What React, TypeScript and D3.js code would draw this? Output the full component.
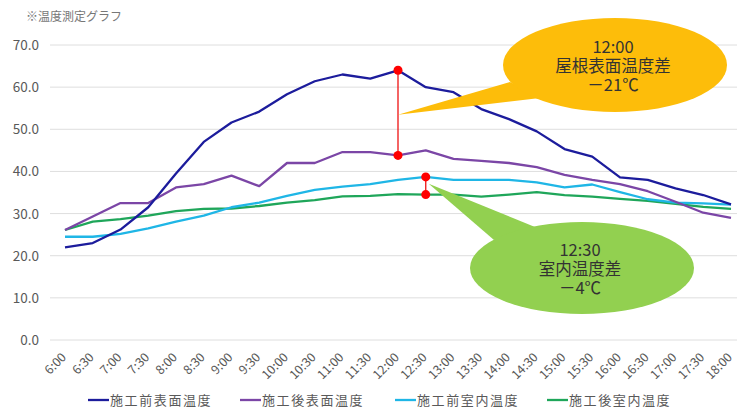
import * as d3 from "d3";
import { useEffect, useRef } from "react";

const times = [
  "6:00", "6:30", "7:00", "7:30", "8:00", "8:30", "9:00", "9:30", "10:00",
  "10:30", "11:00", "11:30", "12:00", "12:30", "13:00", "13:30", "14:00",
  "14:30", "15:00", "15:30", "16:00", "16:30", "17:00", "17:30", "18:00",
];

const beforeSurface = [
  22.0, 23.0, 26.2, 31.5, 39.5, 47.0, 51.6, 54.2, 58.3, 61.4, 63.0, 62.0, 64.0,
  60.0, 58.8, 54.8, 52.4, 49.5, 45.3, 43.5, 38.6, 38.0, 36.0, 34.4, 32.2,
];
const afterSurface = [
  26.1, 29.3, 32.5, 32.5, 36.2, 37.0, 39.0, 36.5, 42.0, 42.0, 44.6, 44.6, 43.8,
  45.0, 43.0, 42.5, 42.0, 41.0, 39.2, 38.0, 37.0, 35.3, 32.8, 30.2, 29.0,
];
const beforeRoom = [
  24.5, 24.5, 25.2, 26.5, 28.1, 29.5, 31.5, 32.6, 34.2, 35.6, 36.4, 37.0, 38.0,
  38.7, 38.0, 38.0, 38.0, 37.4, 36.2, 36.9, 35.1, 33.4, 32.6, 32.4, 32.1,
];
const afterRoom = [
  26.1, 28.1, 28.7, 29.5, 30.6, 31.1, 31.2, 31.8, 32.6, 33.2, 34.1, 34.2, 34.6,
  34.5, 34.5, 34.0, 34.5, 35.1, 34.4, 34.0, 33.5, 33.0, 32.3, 31.6, 31.1,
];

const seriesNames = ["施工前表面温度", "施工後表面温度", "施工前室内温度", "施工後室内温度"];
const seriesColors = ["#1c1c9c", "#7b46a6", "#1fb6e6", "#1fa65a"];
const yTicks = [0, 10, 20, 30, 40, 50, 60, 70];

const font = "'Noto Sans CJK JP', 'Noto Sans', sans-serif";

const App = () => {
  const ref = useRef<SVGSVGElement | null>(null);

  useEffect(() => {
    const svg = d3.select(ref.current);
    svg.selectAll("*").remove();

    const x = d3.scalePoint<string>().domain(times).range([65, 731]);
    const y = d3.scaleLinear().domain([0, 70]).range([340, 45]);

    svg.append("rect").attr("width", 737).attr("height", 410).attr("fill", "#fff");

    svg
      .append("text")
      .attr("x", 26)
      .attr("y", 21)
      .attr("font-size", 12)
      .attr("fill", "#777")
      .attr("font-family", font)
      .text("※温度測定グラフ");

    // grid + y labels
    const grid = svg.append("g");
    yTicks.forEach((t) => {
      grid
        .append("line")
        .attr("x1", 50)
        .attr("x2", 737)
        .attr("y1", y(t))
        .attr("y2", y(t))
        .attr("stroke", "#dedede")
        .attr("stroke-width", 1);
      grid
        .append("text")
        .attr("x", 39)
        .attr("y", y(t) + 5)
        .attr("text-anchor", "end")
        .attr("font-size", 13.5)
        .attr("fill", "#595959")
        .attr("font-family", font)
        .text(t.toFixed(1));
    });

    // x labels
    times.forEach((t) => {
      const px = (x(t) || 0) + 2;
      svg
        .append("text")
        .attr("transform", `translate(${px},358) rotate(-45)`)
        .attr("text-anchor", "end")
        .attr("font-size", 12.5)
        .attr("fill", "#595959")
        .attr("font-family", font)
        .text(t);
    });

    const all = [beforeSurface, afterSurface, beforeRoom, afterRoom];
    const line = d3
      .line<number>()
      .x((_, i) => x(times[i]) || 0)
      .y((d) => y(d));

    // draw in order so navy is on top like the reference
    [3, 2, 1, 0].forEach((k) => {
      svg
        .append("path")
        .datum(all[k])
        .attr("d", line)
        .attr("fill", "none")
        .attr("stroke", seriesColors[k])
        .attr("stroke-width", 2.3)
        .attr("stroke-linejoin", "round");
    });

    // difference markers
    const diffs = [
      { t: "12:00", a: beforeSurface[12], b: afterSurface[12] },
      { t: "12:30", a: beforeRoom[13], b: afterRoom[13] },
    ];
    diffs.forEach((d) => {
      const px = x(d.t) || 0;
      svg
        .append("line")
        .attr("x1", px)
        .attr("x2", px)
        .attr("y1", y(d.a))
        .attr("y2", y(d.b))
        .attr("stroke", "#ee1111")
        .attr("stroke-width", 1.3);
      [d.a, d.b].forEach((v) => {
        svg.append("circle").attr("cx", px).attr("cy", y(v)).attr("r", 4.5).attr("fill", "#ff0000");
      });
    });

    // callouts
    const callouts = [
      {
        cx: 615, cy: 65, rx: 112, ry: 47, fill: "#fdbd0a",
        tip: [x("12:00") || 0, y((beforeSurface[12] + afterSurface[12]) / 2) + 2],
        base: [[510, 82], [540, 98]],
        lines: ["12:00", "屋根表面温度差", "－21℃"],
        textY: [53, 72, 91],
      },
      {
        cx: 582, cy: 268, rx: 112, ry: 46, fill: "#92d050",
        tip: [(x("12:30") || 0) + 3, y((beforeRoom[13] + afterRoom[13]) / 2) - 2],
        base: [[494, 240], [535, 227]],
        lines: ["12:30", "室内温度差", "－4℃"],
        textY: [256, 275, 294],
      },
    ];
    callouts.forEach((c) => {
      svg
        .append("polygon")
        .attr("points", [c.tip, ...c.base].map((p) => p.join(",")).join(" "))
        .attr("fill", c.fill);
      svg
        .append("ellipse")
        .attr("cx", c.cx)
        .attr("cy", c.cy)
        .attr("rx", c.rx)
        .attr("ry", c.ry)
        .attr("fill", c.fill);
      c.lines.forEach((s, i) => {
        svg
          .append("text")
          .attr("x", c.cx - 2)
          .attr("y", c.textY[i])
          .attr("text-anchor", "middle")
          .attr("font-size", 16.5)
          .attr("fill", "#333")
          .attr("font-family", font)
          .text(s);
      });
    });

    // legend
    const legendX = [88, 240, 395, 547];
    seriesNames.forEach((n, i) => {
      const g = svg.append("g").attr("transform", `translate(${legendX[i]},400)`);
      g.append("line")
        .attr("x1", 0)
        .attr("x2", 21)
        .attr("y1", 0)
        .attr("y2", 0)
        .attr("stroke", seriesColors[i])
        .attr("stroke-width", 2.3);
      g.append("text")
        .attr("x", 22)
        .attr("y", 5)
        .attr("font-size", 13)
        .attr("letter-spacing", 1.6)
        .attr("fill", "#595959")
        .attr("font-family", font)
        .text(n);
    });
  }, []);

  return <svg ref={ref} width={737} height={410} style={{ position: "absolute", left: 0, top: 0 }} />;
};

export default App;
